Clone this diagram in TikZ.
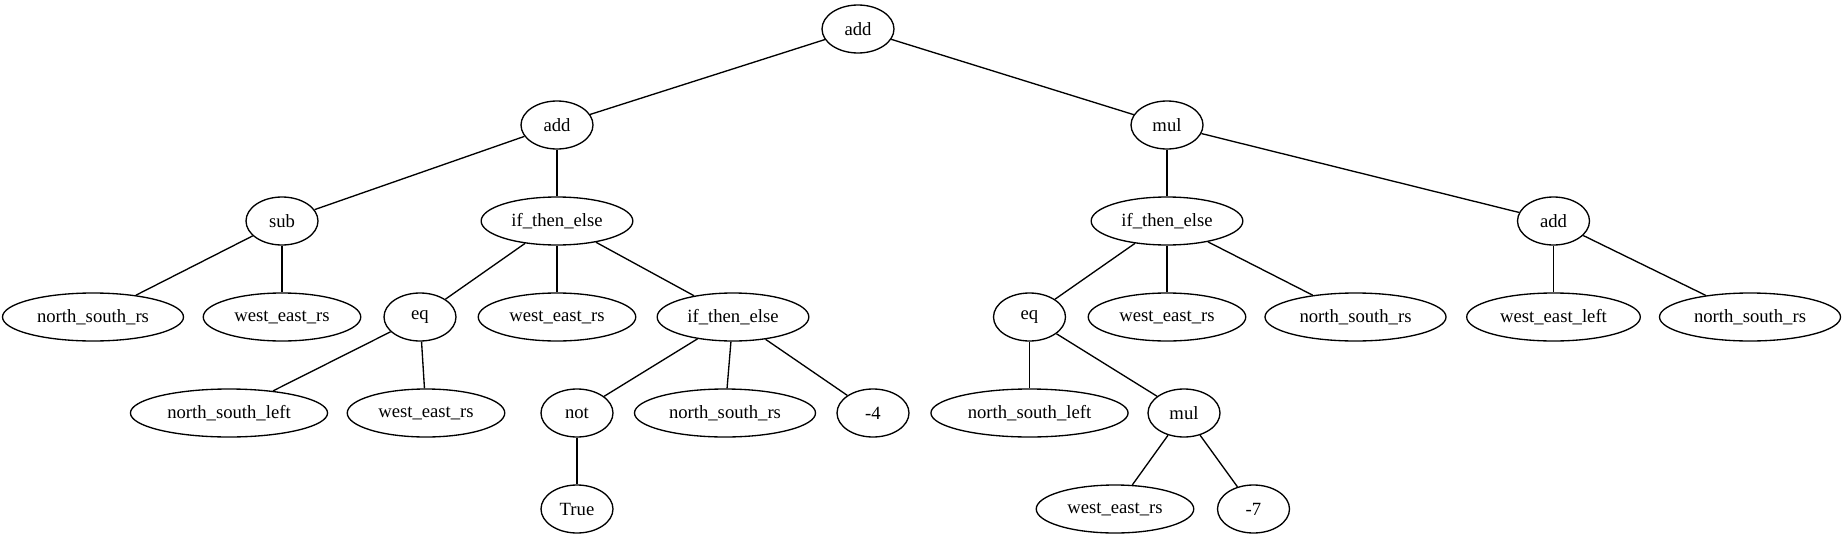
\documentclass[tikz,border=0pt]{standalone}
\usepackage{fontspec}
\setmainfont{Liberation Serif}
\usepackage{tikz}
\usetikzlibrary{shapes.geometric}

\begin{document}
\begin{tikzpicture}[
  x=0.75pt, y=-0.75pt,
  font=\fontsize{14pt}{16pt}\selectfont,
  tnode/.style={draw, ellipse, line width=1pt, minimum width=54pt, minimum height=36pt, inner xsep=6pt, inner ysep=1pt},
  edge/.style={line width=1pt}
]
\useasboundingbox (0,0) rectangle (1845,539);
% level 0
\node[tnode] (root) at (858,29) {add};
% level 1
\node[tnode] (addL) at (557,125) {add};
\node[tnode] (mulR) at (1167,125) {mul};
% level 2
\node[tnode] (sub) at (282,221) {sub};
\node[tnode] (iteL) at (557,221) {if\_then\_else};
\node[tnode] (iteR) at (1167,221) {if\_then\_else};
\node[tnode] (addR) at (1553.5,221) {add};
% level 3
\node[tnode] (nsA) at (93,317) {north\_south\_rs};
\node[tnode] (weA) at (282,317) {west\_east\_rs};
\node[tnode] (eqL) at (420,317) {eq};
\node[tnode] (weB) at (557,317) {west\_east\_rs};
\node[tnode] (iteM) at (733,317) {if\_then\_else};
\node[tnode] (eqR) at (1029.5,317) {eq};
\node[tnode] (weC) at (1167,317) {west\_east\_rs};
\node[tnode] (nsB) at (1355.5,317) {north\_south\_rs};
\node[tnode] (weleft) at (1553.5,317) {west\_east\_left};
\node[tnode] (nsC) at (1750,317) {north\_south\_rs};
% level 4
\node[tnode] (nslA) at (229,413) {north\_south\_left};
\node[tnode] (weD) at (426,413) {west\_east\_rs};
\node[tnode] (notL) at (577,413) {not};
\node[tnode] (nsD) at (725,413) {north\_south\_rs};
\node[tnode] (mfour) at (873,413) {-4};
\node[tnode] (nslB) at (1029.5,413) {north\_south\_left};
\node[tnode] (mulB) at (1184,413) {mul};
% level 5
\node[tnode] (true) at (577,509) {True};
\node[tnode] (weE) at (1115,509) {west\_east\_rs};
\node[tnode] (mseven) at (1253.5,509) {-7};

\draw[edge] (root) -- (addL);
\draw[edge] (root) -- (mulR);
\draw[edge] (addL) -- (sub);
\draw[edge] (addL) -- (iteL);
\draw[edge] (mulR) -- (iteR);
\draw[edge] (mulR) -- (addR);
\draw[edge] (sub) -- (nsA);
\draw[edge] (sub) -- (weA);
\draw[edge] (iteL) -- (eqL);
\draw[edge] (iteL) -- (weB);
\draw[edge] (iteL) -- (iteM);
\draw[edge] (iteR) -- (eqR);
\draw[edge] (iteR) -- (weC);
\draw[edge] (iteR) -- (nsB);
\draw[edge] (addR) -- (weleft);
\draw[edge] (addR) -- (nsC);
\draw[edge] (eqL) -- (nslA);
\draw[edge] (eqL) -- (weD);
\draw[edge] (iteM) -- (notL);
\draw[edge] (iteM) -- (nsD);
\draw[edge] (iteM) -- (mfour);
\draw[edge] (eqR) -- (nslB);
\draw[edge] (eqR) -- (mulB);
\draw[edge] (notL) -- (true);
\draw[edge] (mulB) -- (weE);
\draw[edge] (mulB) -- (mseven);
\end{tikzpicture}
\end{document}
